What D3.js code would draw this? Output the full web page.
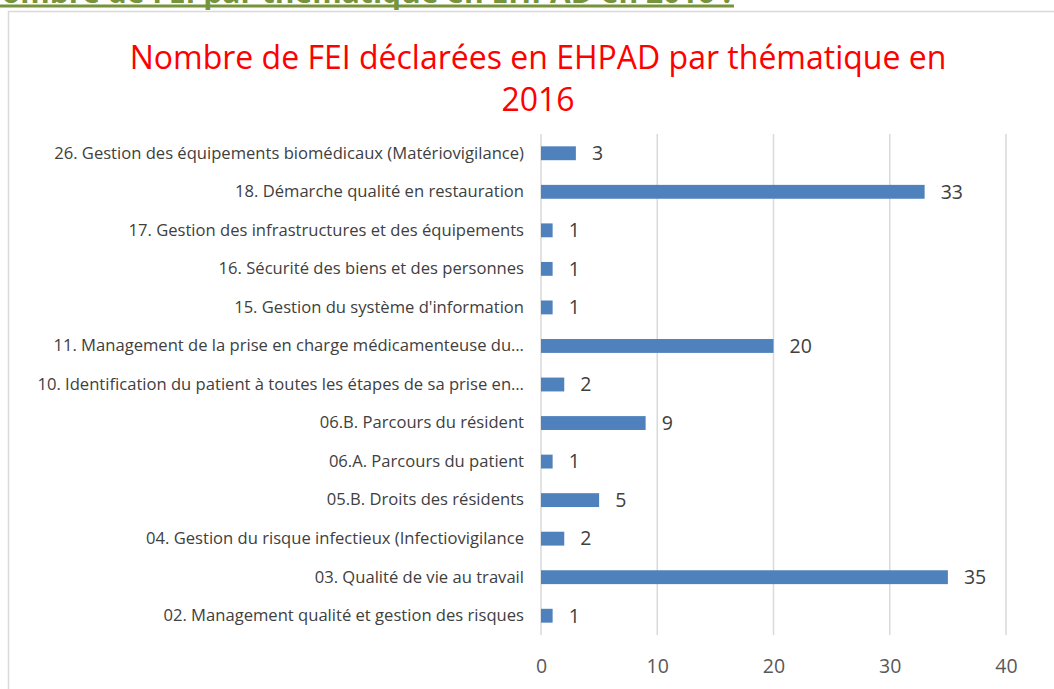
<!DOCTYPE html>
<html>
<head>
<meta charset="utf-8">
<script src="https://cdn.jsdelivr.net/npm/d3@7"></script>
<style>
	body { margin: 0; background: #fff; }
	svg { display: block; }
</style>
</head>
<body>
<script>
// data (top to bottom)
const categories = [
	"26. Gestion des équipements biomédicaux (Matériovigilance)",
	"18. Démarche qualité en restauration",
	"17. Gestion des infrastructures et des équipements",
	"16. Sécurité des biens et des personnes",
	"15. Gestion du système d'information",
	"11. Management de la prise en charge médicamenteuse du…",
	"10. Identification du patient à toutes les étapes de sa prise en…",
	"06.B. Parcours du résident",
	"06.A. Parcours du patient",
	"05.B. Droits des résidents",
	"04. Gestion du risque infectieux (Infectiovigilance",
	"03. Qualité de vie au travail",
	"02. Management qualité et gestion des risques"
];
const values = [3, 33, 1, 1, 1, 20, 2, 9, 1, 5, 2, 35, 1];
const xTicks = [0, 10, 20, 30, 40];
const titleLines = ["Nombre de FEI déclarées en EHPAD par thématique en", "2016"];
const headingText = "Nombre de FEI par thématique en EHPAD en 2016 :";

const W = 1054, H = 689;
const font = "'Open Sans', sans-serif";

let svg = d3.select("body").append("svg")
	.attr("width", W)
	.attr("height", H);

//cut-off heading above the chart
svg.append("text")
	.attr("x", 731)
	.attr("y", 3)
	.attr("text-anchor", "end")
	.attr("font-family", font)
	.attr("font-weight", "bold")
	.attr("font-size", 30)
	.attr("fill", "#77933c")
	.text(headingText);
svg.append("rect")
	.attr("x", 0).attr("y", 4.5)
	.attr("width", 734).attr("height", 3)
	.attr("fill", "#77933c");

//chart frame
svg.append("rect")
	.attr("x", 8.5).attr("y", 11.5)
	.attr("width", 1100).attr("height", 720)
	.attr("fill", "#fff")
	.attr("stroke", "#d9d9d9")
	.attr("stroke-width", 1.5);

//title
svg.selectAll("text.title")
	.data(titleLines)
	.enter().append("text")
	.attr("class", "title")
	.attr("x", 538)
	.attr("y", (d, i) => 69 + i * 42)
	.attr("text-anchor", "middle")
	.attr("font-family", font)
	.attr("font-size", 32)
	.attr("fill", "#ff0000")
	.text(d => d);

const x = d3.scaleLinear().domain([0, 40]).range([541, 1006]);
const y = d3.scaleBand().domain(categories).range([134, 635]).paddingInner(0.64).paddingOuter(0.32);

//gridlines
svg.selectAll("line.grid")
	.data(xTicks)
	.enter().append("line")
	.attr("class", "grid")
	.attr("x1", d => x(d)).attr("x2", d => x(d))
	.attr("y1", 134).attr("y2", 635)
	.attr("stroke", "#d9d9d9")
	.attr("stroke-width", 1.5);

//x axis labels
let xAxis = svg.append("g")
	.attr("transform", "translate(0,659)")
	.call(d3.axisBottom(x).tickValues(xTicks).tickSize(0).tickPadding(0));
xAxis.select(".domain").remove();
xAxis.selectAll("text")
	.attr("font-family", font)
	.attr("font-size", 19.5)
	.attr("fill", "#595959");

//y axis labels
let yAxis = svg.append("g")
	.attr("transform", "translate(524,0)")
	.call(d3.axisLeft(y).tickSize(0).tickPadding(0));
yAxis.select(".domain").remove();
yAxis.selectAll("text")
	.attr("font-family", font)
	.attr("font-size", 16.6)
	.attr("fill", "#404040");

//bars
svg.selectAll("rect.bar")
	.data(values)
	.enter().append("rect")
	.attr("class", "bar")
	.attr("x", x(0))
	.attr("y", (d, i) => y(categories[i]))
	.attr("width", d => x(d) - x(0))
	.attr("height", y.bandwidth())
	.attr("fill", "#4f81bd");

//value labels
svg.selectAll("text.val")
	.data(values)
	.enter().append("text")
	.attr("class", "val")
	.attr("x", d => x(d) + 16)
	.attr("y", (d, i) => y(categories[i]) + y.bandwidth() / 2)
	.attr("dy", "0.35em")
	.attr("font-family", font)
	.attr("font-size", 19.5)
	.attr("fill", "#404040")
	.text(d => d);
</script>
</body>
</html>
